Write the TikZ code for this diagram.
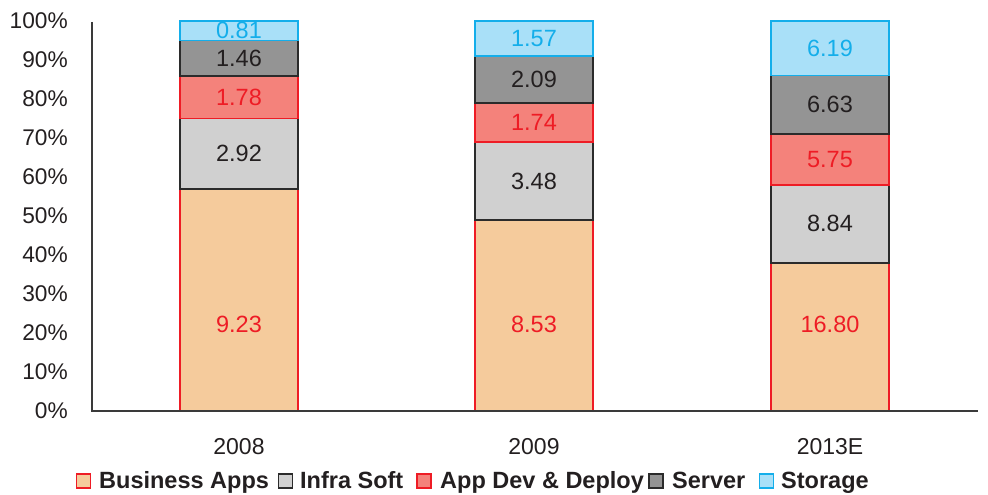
\documentclass[tikz,border=0pt]{standalone}
\usepackage{fontspec}
\setmainfont{Liberation Sans}
\definecolor{bizfill}{HTML}{F5CB9C}
\definecolor{redline}{HTML}{EE1C25}
\definecolor{infrafill}{HTML}{D0D0D0}
\definecolor{darkline}{HTML}{2B2B2B}
\definecolor{devfill}{HTML}{F4827B}
\definecolor{srvfill}{HTML}{949494}
\definecolor{stofill}{HTML}{A9E0F8}
\definecolor{cyanline}{HTML}{14AEEA}
\definecolor{axisgray}{HTML}{3A3A3A}
\definecolor{textdark}{HTML}{231F20}

\tikzset{
  bizseg/.style={fill=bizfill, draw=redline, line width=1.8pt},
  infraseg/.style={fill=infrafill, draw=darkline, line width=1.8pt},
  devseg/.style={fill=devfill, draw=redline, line width=1.8pt},
  srvseg/.style={fill=srvfill, draw=darkline, line width=1.8pt},
  stoseg/.style={fill=stofill, draw=cyanline, line width=1.8pt},
  vallbl/.style={inner sep=0pt, font=\fontsize{23.5}{23.5}\selectfont},
  ticklbl/.style={inner sep=0pt, anchor=east, text=textdark, font=\fontsize{22.7}{22.7}\selectfont},
  catlbl/.style={inner sep=0pt, text=textdark, font=\fontsize{23}{23}\selectfont},
  leglbl/.style={inner sep=0pt, anchor=base west, text=textdark, font=\bfseries\fontsize{23.5}{23.5}\selectfont},
  legbox/.style={minimum width=14pt, minimum height=14pt, inner sep=0pt, line width=1.8pt},
  axisline/.style={draw=axisgray, line width=1.5pt}
}

% one stacked 100% column: #1 centre x, #2 name, #3..#7 segment values
\newcommand{\stackbar}[7]{%
  \pgfmathsetmacro\stkT{#3+#4+#5+#6+#7}%
  \pgfmathsetmacro\stkA{84+390*(#3)/\stkT}%
  \pgfmathsetmacro\stkB{84+390*(#3+#4)/\stkT}%
  \pgfmathsetmacro\stkC{84+390*(#3+#4+#5)/\stkT}%
  \pgfmathsetmacro\stkD{84+390*(#3+#4+#5+#6)/\stkT}%
  \draw[bizseg]   (#1-59,84)    rectangle (#1+59,\stkA);
  \draw[infraseg] (#1-59,\stkA) rectangle (#1+59,\stkB);
  \draw[devseg]   (#1-59,\stkB) rectangle (#1+59,\stkC);
  \draw[srvseg]   (#1-59,\stkC) rectangle (#1+59,\stkD);
  \draw[stoseg]   (#1-59,\stkD) rectangle (#1+59,474);
  \node[vallbl, text=redline]  (#2-biz)   at (#1,171) {#3};
  \node[vallbl, text=textdark] (#2-infra) at (#1,{(\stkA+\stkB)/2}) {#4};
  \node[vallbl, text=redline]  (#2-dev)   at (#1,{(\stkB+\stkC)/2}) {#5};
  \node[vallbl, text=textdark] (#2-srv)   at (#1,{(\stkC+\stkD)/2}) {#6};
  \node[vallbl, text=cyanline] (#2-sto)   at (#1,{(\stkD+474)/2}) {#7};
}

\begin{document}
\begin{tikzpicture}[x=1pt,y=1pt]
\useasboundingbox (0,0) rectangle (988,495);

% value axis and its tick labels
\coordinate (ytop) at (92,473);
\coordinate (origin) at (92,84);
\coordinate (xend) at (978,84);
\foreach \p in {0,10,...,100}{
  \node[ticklbl] (tick\p) at (68,{84+3.9*\p}) {\p\%};
}

% columns
\stackbar{239}{y2008}{9.23}{2.92}{1.78}{1.46}{0.81}
\stackbar{534}{y2009}{8.53}{3.48}{1.74}{2.09}{1.57}
\stackbar{830}{y2013}{16.80}{8.84}{5.75}{6.63}{6.19}

\draw[axisline] (ytop) -- (origin) -- (xend);

% category labels
\node[catlbl] (c2008) at (239,48) {2008};
\node[catlbl] (c2009) at (534,48) {2009};
\node[catlbl] (c2013) at (830,48) {2013E};

% legend
\node[legbox, fill=bizfill, draw=redline]  (kbiz)   at (83.5,14) {};
\node[leglbl] (tbiz) at (99,6) {Business Apps};
\node[legbox, fill=infrafill, draw=darkline] (kinfra) at (285.5,14) {};
\node[leglbl] (tinfra) at (300,6) {Infra Soft};
\node[legbox, fill=devfill, draw=redline] (kdev) at (424,14) {};
\node[leglbl] (tdev) at (440,6) {App Dev \& Deploy};
\node[legbox, fill=srvfill, draw=darkline] (ksrv) at (656,14) {};
\node[leglbl] (tsrv) at (672,6) {Server};
\node[legbox, fill=stofill, draw=cyanline] (ksto) at (766.5,14) {};
\node[leglbl] (tsto) at (781,6) {Storage};
\end{tikzpicture}
\end{document}
